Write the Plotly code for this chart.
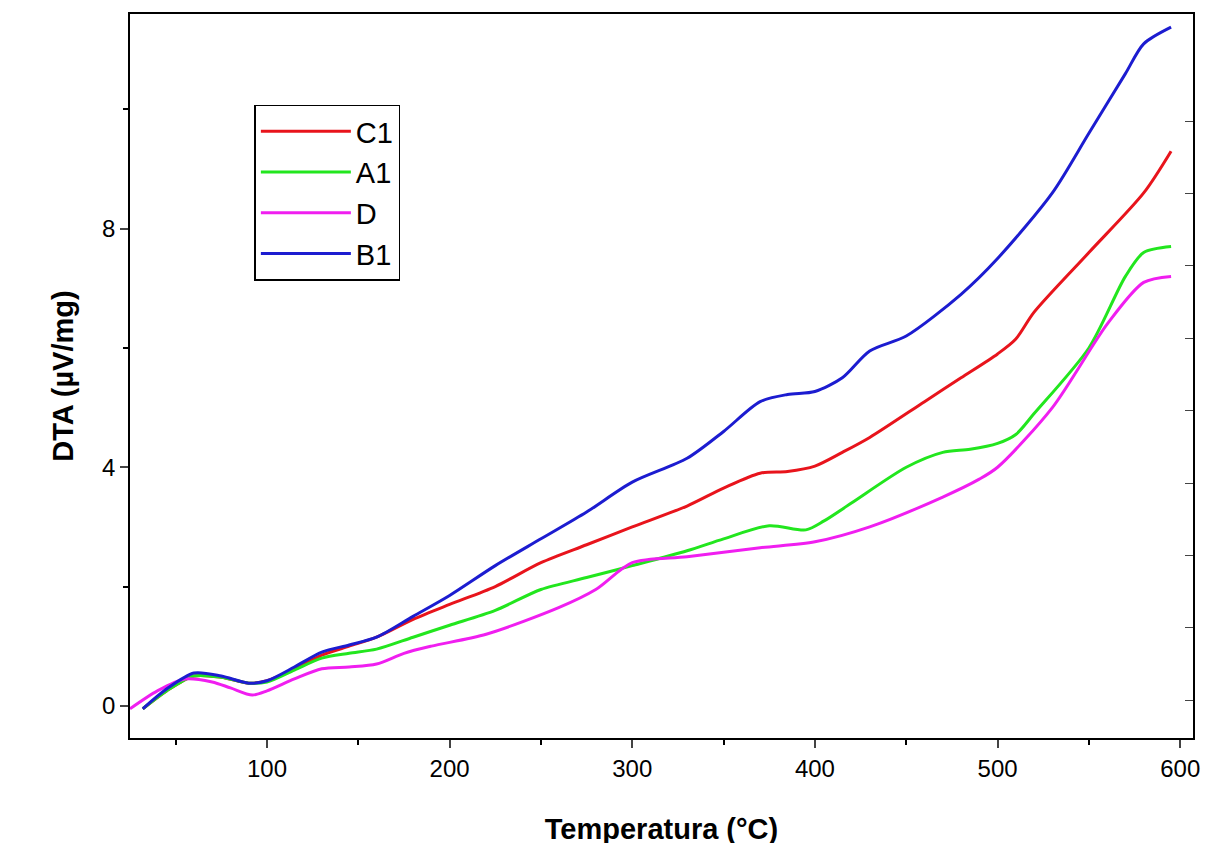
import plotly.graph_objects as go

c1_x = [32,45,60,75,90,100,115,130,145,160,180,200,225,250,275,300,330,350,370,385,400,415,430,460,480,500,510,520,550,580,595]
c1_y = [-0.05,0.25,0.5,0.48,0.38,0.42,0.62,0.85,1.0,1.15,1.45,1.7,2.0,2.4,2.7,3.0,3.35,3.65,3.9,3.93,4.02,4.25,4.5,5.1,5.5,5.9,6.15,6.6,7.6,8.6,9.3]
a1_x = [32,45,60,75,90,100,115,130,145,160,180,200,225,250,275,300,330,350,375,395,405,420,450,470,485,500,510,520,550,570,580,595]
a1_y = [-0.05,0.25,0.5,0.48,0.38,0.4,0.6,0.8,0.88,0.95,1.15,1.35,1.6,1.95,2.15,2.35,2.6,2.8,3.02,2.95,3.1,3.4,4.0,4.25,4.3,4.4,4.55,4.9,6.0,7.2,7.6,7.7]
d_x = [25,40,55,70,80,92,100,115,130,145,160,175,190,220,260,280,300,330,370,400,430,470,490,500,530,560,580,595]
d_y = [-0.05,0.25,0.45,0.4,0.3,0.18,0.25,0.45,0.62,0.65,0.7,0.88,1.0,1.2,1.65,1.95,2.4,2.5,2.65,2.75,3.0,3.5,3.8,4.0,5.0,6.4,7.1,7.2]
b1_x = [32,45,60,75,90,100,115,130,145,160,180,200,225,250,275,300,330,350,370,385,400,415,430,450,480,500,530,550,570,580,595]
b1_y = [-0.05,0.28,0.55,0.5,0.38,0.42,0.65,0.9,1.02,1.15,1.5,1.85,2.35,2.8,3.25,3.75,4.15,4.6,5.1,5.22,5.27,5.5,5.95,6.2,6.9,7.5,8.6,9.6,10.6,11.1,11.38]

series = [("C1", c1_x, c1_y, "#e8141c"), ("A1", a1_x, a1_y, "#22e61e"),
          ("D", d_x, d_y, "#f01ef0"), ("B1", b1_x, b1_y, "#1c1cd0")]

fig = go.Figure()
for name, x, y, col in series:
    fig.add_trace(go.Scatter(x=x, y=y, name=name, mode="lines",
                             line=dict(color=col, width=3, shape="spline", smoothing=0.8)))
fig.add_trace(go.Scatter(x=[None], y=[None], yaxis="y2", showlegend=False))

fig.update_layout(
    width=1210, height=843, paper_bgcolor="white", plot_bgcolor="white",
    margin=dict(l=122, r=25, t=4, b=113),
    font=dict(family="Liberation Sans", size=24, color="black"),
    xaxis=dict(range=[25, 607], tickvals=[100,200,300,400,500,600], ticks="outside",
               ticklen=8, tickwidth=1.5, showline=True, linewidth=1.5, linecolor="black",
               mirror=True, showgrid=False, zeroline=False,
               minor=dict(tickvals=[50,150,250,350,450,550], ticks="outside", ticklen=5, tickcolor="black"),
               title=dict(text="<b>Temperatura (°C)</b>", font=dict(size=29), standoff=38)),
    yaxis=dict(range=[-0.54, 11.6], tickvals=[0,4,8], ticks="outside", ticklen=8, tickwidth=1.5,
               showline=True, linewidth=1.5, linecolor="black", mirror=True, showgrid=False, zeroline=False,
               minor=dict(tickvals=[2,6,10], ticks="outside", ticklen=5, tickcolor="black"),
               title=dict(text="<b>DTA (µV/mg)</b>", font=dict(size=29), standoff=20)),
    yaxis2=dict(overlaying="y", side="right", range=[0, 10], tickvals=[0.52,1.52,2.52,3.52,4.52,5.52,6.52,7.52,8.52],
                ticks="inside", ticklen=8, showticklabels=False, showgrid=False, zeroline=False,
                showline=False),
    legend=dict(x=0.117, y=0.875, xanchor="left", yanchor="top", bordercolor="black", borderwidth=1.5,
                font=dict(size=29), itemwidth=90, tracegroupgap=0),
)
fig.write_html("out.html")
